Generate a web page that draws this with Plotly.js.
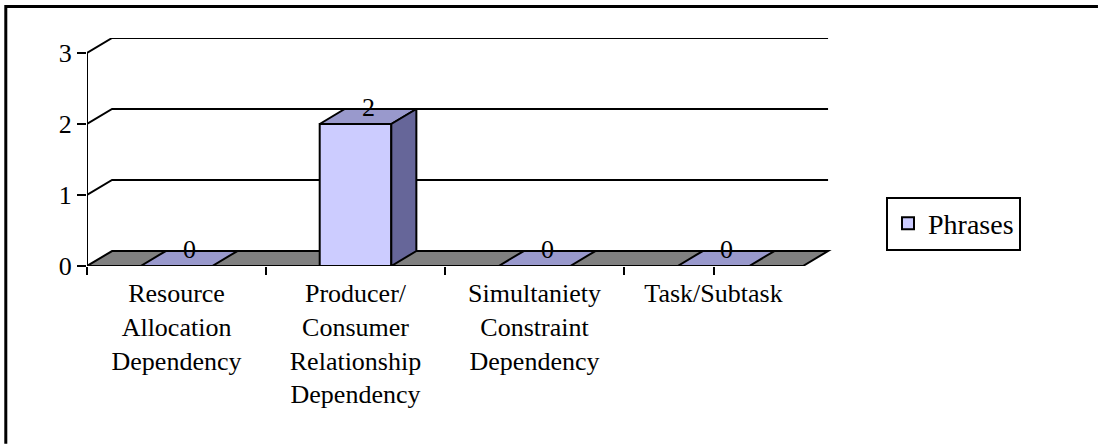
<!DOCTYPE html>
<html>
<head>
<meta charset="utf-8">
<script src="https://cdn.plot.ly/plotly-3.0.1.min.js"></script>
<style>
  html, body { margin: 0; padding: 0; background: #fff; overflow: hidden; }
  #chart { width: 1099px; height: 444px; }
</style>
</head>
<body>
<div id="chart"></div>
<script>
// Phrases per dependency type (Excel-style 3D column chart)
const categories = [
  "Resource<br>Allocation<br>Dependency",
  "Producer/<br>Consumer<br>Relationship<br>Dependency",
  "Simultaniety<br>Constraint<br>Dependency",
  "Task/Subtask"
];
const phrases = [0, 2, 0, 0];
const yTicks = [0, 1, 2, 3];
const seriesName = "Phrases";

// fake-3D depth, in data units
const DX = 0.14;   // sideways shift of the back plane
const DY = 0.211;  // upward shift of the back plane
const HALF = 0.2;  // half bar width
const FONT = "Liberation Serif";
const EDGE = { color: "#000", width: 2 };

const xs = categories.map((_, i) => i);
const xMin = -0.5, xMax = categories.length - 0.5;

// front faces: a normal bar trace
const front = {
  type: "bar",
  x: xs,
  y: phrases,
  width: HALF * 2,
  name: seriesName,
  marker: { color: "#ccccff", line: EDGE },
  hoverinfo: "skip"
};

// top and side faces as filled polygons built from the values
function face(pts, color) {
  return {
    type: "scatter",
    mode: "lines",
    x: pts.map(p => p[0]),
    y: pts.map(p => p[1]),
    fill: "toself",
    fillcolor: color,
    line: EDGE,
    showlegend: false,
    hoverinfo: "skip"
  };
}

const faces = [];
xs.forEach((x, i) => {
  const v = phrases[i];
  const l = x - HALF, r = x + HALF;
  faces.push(face([[l, v], [r, v], [r + DX, v + DY], [l + DX, v + DY], [l, v]], "#9999cc"));
  if (v > 0) {
    faces.push(face([[r, 0], [r + DX, DY], [r + DX, v + DY], [r, v], [r, 0]], "#666699"));
  }
});

// floor, walls and gridlines behind the bars
const shapes = [];
shapes.push({
  type: "path", xref: "x", yref: "y", layer: "below",
  path: `M${xMin},0 L${xMax},0 L${xMax + DX},${DY} L${xMin + DX},${DY} Z`,
  fillcolor: "#808080", line: EDGE
});
yTicks.forEach(k => {
  if (k === 0) return;
  shapes.push({
    type: "path", xref: "x", yref: "y", layer: "below",
    path: `M${xMin},${k} L${xMin + DX},${k + DY} L${xMax + DX},${k + DY}`,
    line: EDGE
  });
});
// front value axis
shapes.push({
  type: "line", xref: "x", yref: "y", layer: "below",
  x0: xMin, x1: xMin, y0: 0, y1: yTicks[yTicks.length - 1],
  line: EDGE
});
// outer chart frame: only its left and top edges show, kept inside the page
shapes.push({
  type: "path", xref: "paper", yref: "paper",
  path: "M-0.109,-0.78 L-0.109,1.138 L1.357,1.138",
  line: { color: "#000", width: 3 }
});

// value labels on the top faces
const annotations = xs.map((x, i) => ({
  x: x + DX / 2,
  y: phrases[i] + DY / 2,
  xref: "x", yref: "y",
  text: String(phrases[i]),
  showarrow: false,
  yanchor: "bottom",
  yshift: -7,
  font: { family: FONT, size: 26, color: "#000" }
}));

const layout = {
  width: 1099,
  height: 444,
  margin: { l: 87, r: 267, t: 38, b: 178 },
  paper_bgcolor: "#fff",
  plot_bgcolor: "rgba(0,0,0,0)",
  showlegend: true,
  font: { family: FONT, color: "#000" },
  xaxis: {
    range: [xMin, xMax + 0.162],
    tickvals: xs,
    ticktext: categories,
    ticks: "",
    showgrid: false,
    zeroline: false,
    showline: false,
    ticklabelstandoff: 9,
    tickfont: { family: FONT, size: 26, color: "#000" },
    fixedrange: true
  },
  xaxis2: {
    overlaying: "x",
    anchor: "y",
    range: [xMin, xMax + 0.162],
    tickvals: xs.concat([xMax]).map(v => v - 0.5),
    showticklabels: false,
    ticks: "outside",
    ticklen: 8,
    tickwidth: 2,
    tickcolor: "#000",
    showgrid: false,
    zeroline: false,
    showline: false
  },
  yaxis: {
    range: [0, yTicks[yTicks.length - 1] + DY],
    tickvals: yTicks,
    ticks: "outside",
    ticklen: 9,
    tickwidth: 2,
    tickcolor: "#000",
    showgrid: false,
    zeroline: false,
    showline: false,
    tickfont: { family: FONT, size: 26, color: "#000" },
    fixedrange: true
  },
  legend: {
    x: 1.0725,
    xanchor: "left",
    y: 0.186,
    yanchor: "middle",
    bgcolor: "#fff",
    bordercolor: "#000",
    borderwidth: 2,
    font: { family: FONT, size: 28, color: "#000" }
  },
  shapes: shapes,
  annotations: annotations
};

// an empty trace puts xaxis2 (category boundary ticks) on the plot
const tickCarrier = {
  type: "scatter", mode: "none", x: [xMin], y: [0],
  xaxis: "x2", yaxis: "y", showlegend: false, hoverinfo: "skip"
};

Plotly.newPlot("chart", [front].concat(faces, [tickCarrier]), layout, {
  displayModeBar: false
});
</script>
</body>
</html>
